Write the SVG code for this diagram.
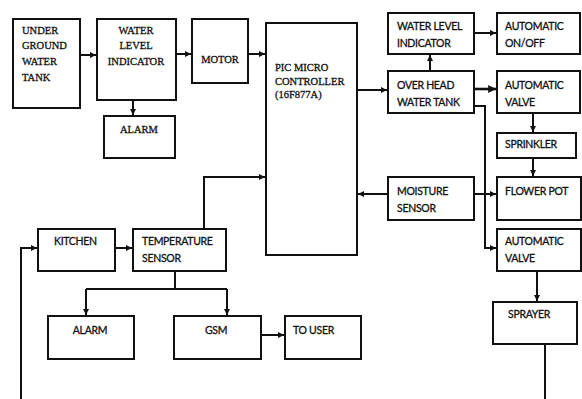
<svg xmlns="http://www.w3.org/2000/svg" width="582" height="399" viewBox="0 0 582 399">
<defs>
<marker id="ah" viewBox="0 0 10 10" refX="10" refY="5" markerWidth="3" markerHeight="3" orient="auto" markerUnits="strokeWidth">
<path d="M0,0 L10,5 L0,10 z" fill="#111"/>
</marker>
<style>
rect{fill:#fff;stroke:#111;stroke-width:2}
.c{fill:none;stroke:#111;stroke-width:2}
.s{font-family:"Liberation Serif",serif;font-size:10.5px;fill:#111;stroke:#111;stroke-width:0.3px}
.n{font-family:Lato,"Liberation Sans",sans-serif;font-size:10.5px;fill:#111;letter-spacing:-0.3px;stroke:#111;stroke-width:0.3px}
.m{text-anchor:middle}
</style>
</defs>
<rect x="0" y="0" width="582" height="399" style="stroke:none"/>
<g id="connectors">
<path class="c" d="M80,55 H96" marker-end="url(#ah)"/>
<path class="c" d="M176,54 H191" marker-end="url(#ah)"/>
<path class="c" d="M248,54 H265" marker-end="url(#ah)"/>
<path class="c" d="M133,100 V115" marker-end="url(#ah)"/>
<path class="c" d="M357,90 H387" marker-end="url(#ah)"/>
<path class="c" d="M430,71 V55" marker-end="url(#ah)"/>
<path class="c" d="M474,33 H496" marker-end="url(#ah)"/>
<path class="c" d="M474,89 H496" style="stroke-width:2.6" marker-end="url(#ah)"/>
<path class="c" d="M533,113 V132" marker-end="url(#ah)"/>
<path class="c" d="M533,158 V176" marker-end="url(#ah)"/>
<path class="c" d="M474,106 H485 V248 H496" marker-end="url(#ah)"/>
<path class="c" d="M388,194 H358" marker-end="url(#ah)"/>
<path class="c" d="M474,194 H496" marker-end="url(#ah)"/>
<path class="c" d="M537,271 V301" marker-end="url(#ah)"/>
<path class="c" d="M545,344 V399"/>
<path class="c" d="M204,229 V177 H265" marker-end="url(#ah)"/>
<path class="c" d="M115,248 H132" marker-end="url(#ah)"/>
<path class="c" d="M175,271 V289"/>
<path class="c" d="M86,289 H227"/>
<path class="c" d="M86,289 V315" marker-end="url(#ah)"/>
<path class="c" d="M227,289 V315" marker-end="url(#ah)"/>
<path class="c" d="M261,335 H284" marker-end="url(#ah)"/>
<path class="c" d="M21,399 V248 H37" marker-end="url(#ah)"/>
</g>
<g id="underground">
<rect x="13" y="19" width="67" height="89"/>
<text class="s" x="22" y="34">UNDER</text>
<text class="s" x="22" y="49">GROUND</text>
<text class="s" x="22" y="65">WATER</text>
<text class="s" x="22" y="81">TANK</text>
</g>
<g id="wli1">
<rect x="97" y="19" width="79" height="81"/>
<text class="s m" x="136" y="34">WATER</text>
<text class="s m" x="136" y="49">LEVEL</text>
<text class="s m" x="136" y="65">INDICATOR</text>
</g>
<g id="motor">
<rect x="192" y="19" width="56" height="64"/>
<text class="s m" x="220" y="63">MOTOR</text>
</g>
<g id="alarm1">
<rect x="104" y="116" width="71" height="42"/>
<text class="s m" x="139" y="133">ALARM</text>
</g>
<g id="pic">
<rect x="266" y="23" width="91" height="232"/>
<text class="s" x="275" y="71">PIC MICRO</text>
<text class="s" x="275" y="85">CONTROLLER</text>
<text class="s" x="275" y="98">(16F877A)</text>
</g>
<g id="wli2">
<rect x="388" y="13" width="86" height="41"/>
<text class="n" x="397" y="30">WATER LEVEL</text>
<text class="n" x="397" y="47">INDICATOR</text>
</g>
<g id="onoff">
<rect x="497" y="13" width="83" height="41"/>
<text class="n" x="505" y="30">AUTOMATIC</text>
<text class="n" x="505" y="47">ON/OFF</text>
</g>
<g id="oht">
<rect x="388" y="71" width="86" height="42"/>
<text class="n" x="397" y="89">OVER HEAD</text>
<text class="n" x="397" y="106">WATER TANK</text>
</g>
<g id="av1">
<rect x="497" y="71" width="83" height="42"/>
<text class="n" x="505" y="89">AUTOMATIC</text>
<text class="n" x="505" y="106">VALVE</text>
</g>
<g id="sprinkler">
<rect x="497" y="133" width="79" height="25"/>
<text class="n" x="505" y="148">SPRINKLER</text>
</g>
<g id="moisture">
<rect x="388" y="177" width="86" height="43"/>
<text class="n" x="397" y="195">MOISTURE</text>
<text class="n" x="397" y="212">SENSOR</text>
</g>
<g id="flowerpot">
<rect x="497" y="177" width="84" height="43"/>
<text class="n" x="505" y="195">FLOWER POT</text>
</g>
<g id="av2">
<rect x="497" y="229" width="84" height="42"/>
<text class="n" x="505" y="245">AUTOMATIC</text>
<text class="n" x="505" y="262">VALVE</text>
</g>
<g id="sprayer">
<rect x="493" y="302" width="84" height="42"/>
<text class="n" x="508" y="318">SPRAYER</text>
</g>
<g id="kitchen">
<rect x="38" y="229" width="77" height="42"/>
<text class="n" x="54" y="245">KITCHEN</text>
</g>
<g id="temp">
<rect x="133" y="229" width="93" height="42"/>
<text class="n" x="142" y="245">TEMPERATURE</text>
<text class="n" x="142" y="262">SENSOR</text>
</g>
<g id="alarm2">
<rect x="48" y="316" width="86" height="43"/>
<text class="n m" x="90" y="334">ALARM</text>
</g>
<g id="gsm">
<rect x="174" y="316" width="87" height="43"/>
<text class="n m" x="216" y="334">GSM</text>
</g>
<g id="touser">
<rect x="285" y="316" width="76" height="43"/>
<text class="n" x="293" y="334">TO USER</text>
</g>
</svg>
